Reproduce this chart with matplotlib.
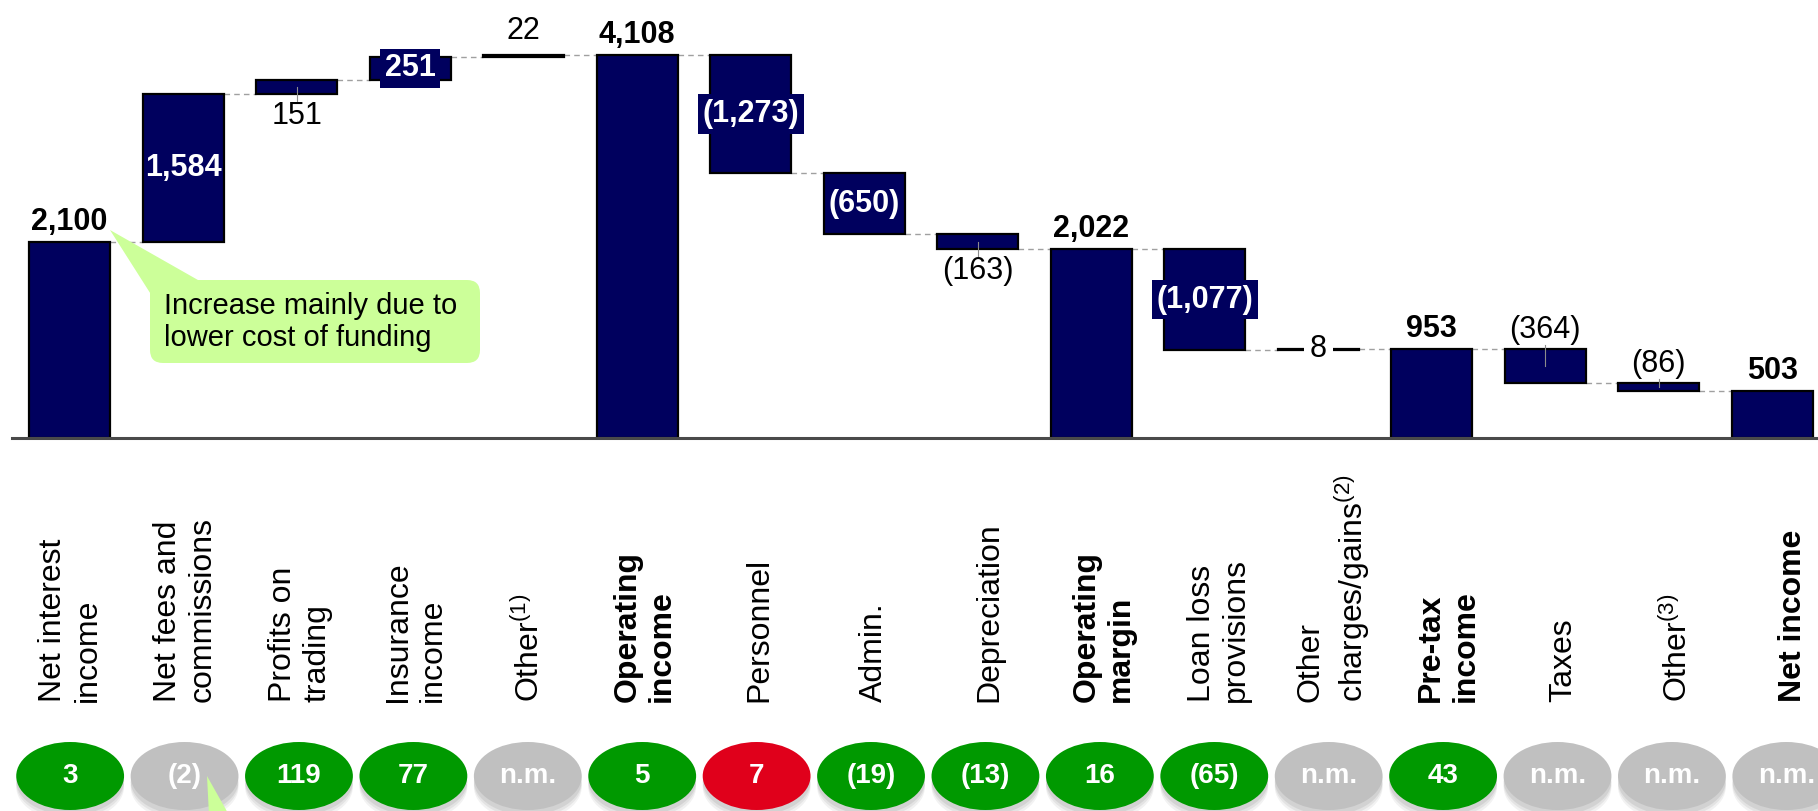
import numpy as np
import matplotlib
matplotlib.use('Agg')
import matplotlib.pyplot as plt
from matplotlib.patches import Ellipse, FancyBboxPatch, Polygon
from matplotlib.transforms import blended_transform_factory

plt.rcParams['font.family'] = ['Liberation Sans', 'DejaVu Sans']
plt.rcParams['mathtext.fontset'] = 'custom'
plt.rcParams['mathtext.rm'] = 'Liberation Sans'

# P&L bridge, EUR m
categories = [
    'Net interest\nincome', 'Net fees and\ncommissions', 'Profits on\ntrading',
    'Insurance\nincome', r'Other$^{\mathrm{(1)}}$', 'Operating\nincome', 'Personnel',
    'Admin.', 'Depreciation', 'Operating\nmargin', 'Loan loss\nprovisions',
    'Other\n' + r'charges/gains$^{\mathrm{(2)}}$', 'Pre-tax\nincome', 'Taxes',
    r'Other$^{\mathrm{(3)}}$', 'Net income',
]
values = [2100, 1584, 151, 251, 22, 4108, -1273, -650, -163, 2022, -1077, 8, 953, -364, -86, 503]
is_total = [True, False, False, False, False, True, False, False, False, True,
            False, False, True, False, False, True]
bold_label = [False, False, False, False, False, True, False, False, False, True,
              False, False, True, False, False, True]
label_style = ['top', 'in', 'below', 'box', 'above', 'top', 'box', 'in', 'below', 'top',
               'box', 'mid', 'top', 'above', 'above', 'top']

# y/y change bubbles (%)
changes = ['3', '(2)', '119', '77', 'n.m.', '5', '7', '(19)', '(13)', '16', '(65)',
           'n.m.', '43', 'n.m.', 'n.m.', 'n.m.']
change_colors = ['g', 'n', 'g', 'g', 'n', 'g', 'r', 'g', 'g', 'g', 'g', 'n', 'g', 'n', 'n', 'n']

NAVY = '#00005E'
NOTE = '#CCFF99'
bubble = {'g': '#009900', 'n': '#C0C0C0', 'r': '#E0001B'}

# waterfall geometry
bottoms, heights, levels = [], [], []
run = 0
for v, tot in zip(values, is_total):
    if tot:
        bottoms.append(0)
        heights.append(v)
        run = v
    else:
        bottoms.append(min(run, run + v))
        heights.append(abs(v))
        run += v
    levels.append(run)


def fmt(v):
    return f"{v:,}" if v >= 0 else f"({-v:,})"


fig = plt.figure(figsize=(18.18, 8.11), dpi=100)
ax = fig.add_axes([0, 0, 1, 1])
ax.set_xlim(-0.613, 15.404)
ax.set_ylim(-3996, 4692)
ax.axis('off')
k = 811 / (4692 + 3996)  # pixels per unit

x = np.arange(len(values))
w = 0.714
ax.bar(x, heights, bottom=bottoms, width=w, color=NAVY, edgecolor='black',
       linewidth=1.6, zorder=2)

for i in range(len(values) - 1):
    ax.plot([i + w / 2, i + 1 - w / 2], [levels[i], levels[i]], color='#A0A0A0',
            lw=1, ls=(0, (4, 3)), zorder=1)

ax.axhline(0, xmin=0.0066, color='#4A4A4A', lw=2.2, zorder=3)

# value labels
for i, v in enumerate(values):
    b, h = bottoms[i], heights[i]
    top, mid = b + h, b + h / 2
    thin = h * k < 5
    s = fmt(v)
    st = label_style[i]
    if st == 'top':
        ax.text(i, top + 12 / k, s, ha='center', va='baseline', fontsize=22,
                fontweight='bold', zorder=4)
    elif st == 'in':
        ax.text(i, mid, s, ha='center', va='center', color='white', fontsize=22,
                fontweight='bold', zorder=4)
    elif st == 'box':
        ax.text(i, mid, s, ha='center', va='center', color='white', fontsize=22,
                fontweight='bold', zorder=4,
                bbox=dict(boxstyle='square,pad=0.15', fc=NAVY, ec='none'))
    elif st == 'above':
        if not thin:
            ax.plot([i, i], [mid, top + 4 / k], color='#8C8C8C', lw=0.8, zorder=3)
        ax.text(i, top + (16 if thin else 11) / k, s, ha='center', va='baseline',
                fontsize=22, zorder=4)
    elif st == 'below':
        ax.plot([i, i], [mid, b - 7 / k], color='#8C8C8C', lw=0.8, zorder=3)
        ax.text(i, b - 7 / k, s, ha='center', va='top', fontsize=22, zorder=4)
    elif st == 'mid':
        ax.text(i, mid, s, ha='center', va='center', fontsize=22, zorder=4,
                bbox=dict(boxstyle='square,pad=0.2', fc='white', ec='none'))

# category labels and bubbles sit on a slightly wider pitch than the bars
tb = blended_transform_factory(ax.transData, ax.transAxes)
lx = x * 1.0115 + 0.01
for i, c in enumerate(categories):
    ax.text(lx[i], 1 - 702 / 811, c, rotation=90, ha='center', va='bottom',
            multialignment='left', fontsize=23, transform=tb,
            fontweight='bold' if bold_label[i] else 'normal')

bx = x * 1.008 + 0.005
yc = 1 - 776 / 811
for i in range(len(changes)):
    for off, a in [(11, 0.05), (8, 0.06), (5, 0.07)]:
        ax.add_patch(Ellipse((bx[i], yc - off / 811), 0.95, 68 / 811, transform=tb,
                             fc='black', ec='none', alpha=a, zorder=4))
    ax.add_patch(Ellipse((bx[i], yc), 0.95, 68 / 811, transform=tb,
                         fc=bubble[change_colors[i]], ec='none', zorder=5))
    ax.text(bx[i], yc, changes[i], transform=tb, ha='center', va='center', color='white',
            fontsize=20, fontweight='bold', zorder=6)

# callout notes, drawn in pixel space
ov = fig.add_axes([0, 0, 1, 1])
ov.set_xlim(0, 1818)
ov.set_ylim(811, 0)
ov.axis('off')
ov.patch.set_alpha(0)
ov.add_patch(FancyBboxPatch((150, 280), 330, 83, boxstyle='round,pad=0,rounding_size=13',
                            fc=NOTE, ec='none'))
ov.add_patch(Polygon([(110, 230), (152, 296), (205, 284)], closed=True, fc=NOTE, ec='none'))
ov.text(164, 322, 'Increase mainly due to\nlower cost of funding', fontsize=21,
        ha='left', va='center')
ov.add_patch(Polygon([(207, 776), (209, 815), (229, 815)], closed=True, fc=NOTE, ec='none'))

fig.savefig('out.png', dpi=100)
